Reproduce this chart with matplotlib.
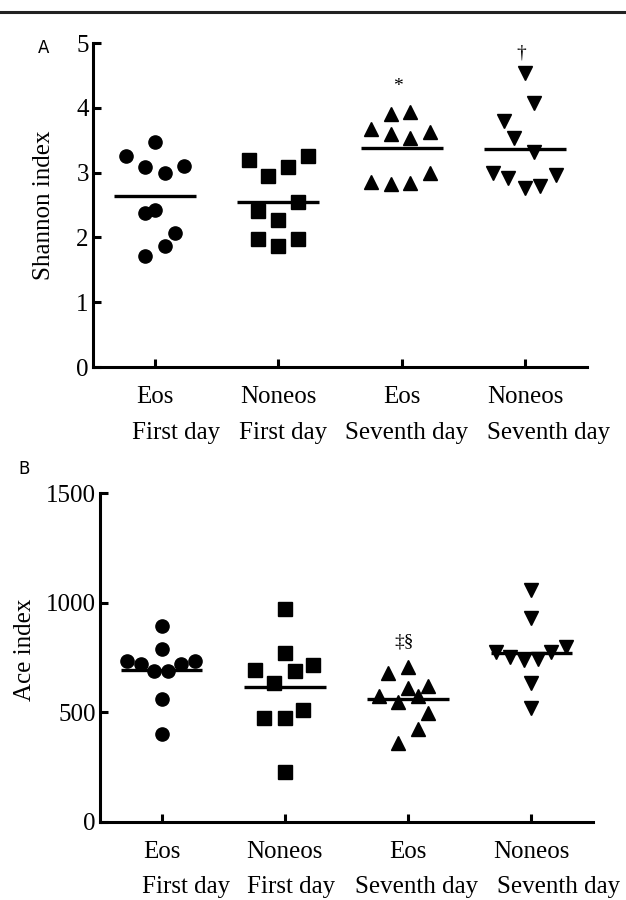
import numpy as np
import matplotlib.pyplot as plt
from matplotlib.lines import Line2D

plt.rcParams['font.family'] = ['Liberation Serif', 'DejaVu Serif']

# Group labels (two rows under each column)
groups = ['Eos', 'Noneos', 'Eos', 'Noneos']
days = ['First day', 'First day', 'Seventh day', 'Seventh day']
markers = ['o', 's', '^', 'v']

# Panel A: Shannon index, horizontal jitter and values per group
shannon_dx = [
    [-0.23, 0.0, -0.08, 0.08, 0.24, -0.08, 0.0, 0.16, 0.08, -0.08],
    [-0.24, -0.08, 0.08, 0.24, 0.16, -0.16, 0.0, -0.16, 0.16, 0.0],
    [-0.25, -0.09, 0.07, 0.23, -0.09, 0.07, 0.23, -0.25, -0.09, 0.07],
    [0.0, 0.07, -0.17, -0.09, 0.07, -0.26, -0.14, 0.0, 0.12, 0.25],
]
shannon_vals = [
    [3.26, 3.47, 3.08, 2.99, 3.10, 2.37, 2.43, 2.07, 1.86, 1.72],
    [3.19, 2.95, 3.09, 3.26, 2.54, 2.41, 2.27, 1.98, 1.97, 1.87],
    [3.68, 3.90, 3.94, 3.63, 3.59, 3.54, 3.00, 2.85, 2.83, 2.84],
    [4.53, 4.08, 3.79, 3.53, 3.32, 3.00, 2.91, 2.77, 2.79, 2.96],
]
shannon_marks = ['', '', '*', '\u2020']
shannon_mark_y = [0, 0, 4.33, 4.84]

# Panel B: Ace index
ace_dx = [
    [-0.28, -0.17, -0.06, 0.05, 0.16, 0.27, 0.0, 0.0, 0.0, 0.0],
    [0.0, 0.0, -0.24, 0.08, 0.23, -0.09, 0.15, -0.17, 0.0, 0.0],
    [-0.16, 0.0, 0.0, 0.16, -0.24, 0.08, -0.08, 0.16, 0.08, -0.08],
    [0.0, 0.0, -0.29, 0.28, -0.17, 0.16, -0.06, 0.05, 0.0, 0.0],
]
ace_vals = [
    [735, 719, 688, 688, 719, 735, 894, 791, 559, 400],
    [970, 769, 693, 688, 716, 632, 511, 473, 473, 229],
    [681, 705, 609, 621, 576, 574, 546, 498, 422, 359],
    [1058, 929, 774, 799, 751, 776, 739, 742, 632, 518],
]
ace_marks = ['', '', '\u2021\u00a7', '']
ace_mark_y = [0, 0, 822, 0]

fig = plt.figure(figsize=(6.26, 9), dpi=100)
fig.add_artist(Line2D([0, 1], [1 - 12 / 900] * 2, transform=fig.transFigure,
                      color='#222222', lw=2.2))

axA = fig.add_axes([93 / 626, 1 - 367 / 900, 494 / 626, 324 / 900])
axB = fig.add_axes([100 / 626, 1 - 822 / 900, 493 / 626, 329 / 900])


def draw_panel(ax, dx, vals, ymax, yticks, marks, mark_y, row1_off, row2_off, row2_x):
    for i, (d, v) in enumerate(zip(dx, vals)):
        ax.plot(i + np.array(d), v, linestyle='none', marker=markers[i],
                markersize=9.5, color='black', zorder=3)
        ax.hlines(np.mean(v), i - 0.33, i + 0.33, color='black', lw=2.4, zorder=4)
        if marks[i]:
            ax.text(i - 0.03, mark_y[i], marks[i], ha='center', va='center', fontsize=14)
    ax.set_xlim(-0.5, 3.5)
    ax.set_ylim(0, ymax)
    ax.set_yticks(yticks)
    ax.set_xticks(range(4))
    ax.set_xticklabels([])
    for s in ['top', 'right']:
        ax.spines[s].set_visible(False)
    for s in ['left', 'bottom']:
        ax.spines[s].set_linewidth(2.2)
    ax.tick_params(direction='in', length=6, width=2.2, labelsize=18, pad=3)
    ax.tick_params(axis='x', length=6)
    for i in range(4):
        ax.annotate(groups[i], (i, 0), xycoords=('data', 'axes fraction'),
                    xytext=(0, row1_off), textcoords='offset points',
                    ha='center', va='center', fontsize=18)
        ax.annotate(days[i], (row2_x[i], 0), xycoords=('data', 'axes fraction'),
                    xytext=(0, row2_off), textcoords='offset points',
                    ha='center', va='center', fontsize=18)


draw_panel(axA, shannon_dx, shannon_vals, 5, range(6), shannon_marks, shannon_mark_y,
           -21.5, -47.5, [0.17, 1.04, 2.04, 3.19])
draw_panel(axB, ace_dx, ace_vals, 1500, [0, 500, 1000, 1500], ace_marks, ace_mark_y,
           -21.5, -47, [0.2, 1.05, 2.07, 3.22])

fig.text(44 / 626, 1 - 205 / 900, 'Shannon index', rotation=90,
         ha='center', va='center', fontsize=18)
fig.text(25 / 626, 1 - 650 / 900, 'Ace index', rotation=90,
         ha='center', va='center', fontsize=18)
fig.text(44 / 626, 1 - 48 / 900, 'A', family='DejaVu Sans', ha='center',
         va='center', fontsize=12)
fig.text(24 / 626, 1 - 469 / 900, 'B', family='DejaVu Sans', ha='center',
         va='center', fontsize=12)

fig.savefig('out.png', dpi=100)
